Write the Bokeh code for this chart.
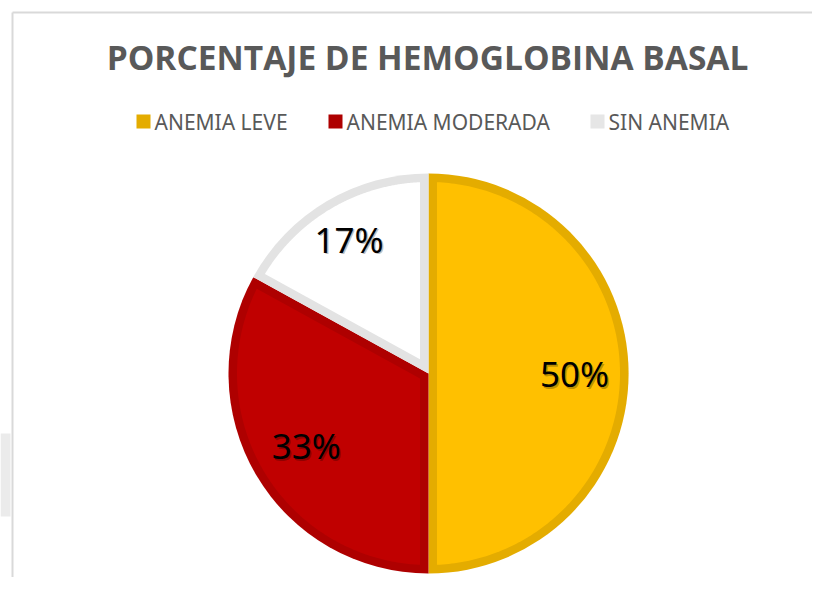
import numpy as np
from bokeh.plotting import figure
from bokeh.models import Range1d
from bokeh.core.properties import value
from bokeh.embed import file_html
from bokeh.resources import INLINE

# ---- data ----
title = "PORCENTAJE DE HEMOGLOBINA BASAL"
categories = ["ANEMIA LEVE", "ANEMIA MODERADA", "SIN ANEMIA"]
percentages = [50, 33, 17]
fill_colors = ["#FFC000", "#C00000", "#FFFFFF"]
edge_colors = ["#E4AC00", "#AE0000", "#E3E3E3"]
legend_colors = ["#E4AC00", "#AE0000", "#E6E6E6"]

W, H = 812, 577
p = figure(width=W, height=H, output_backend="svg", toolbar_location=None,
           x_range=Range1d(0, W), y_range=Range1d(0, H), min_border=0)
p.axis.visible = False
p.grid.visible = False
p.outline_line_color = None
p.background_fill_color = "white"
p.border_fill_color = "white"

# faint background watermark fragment at left edge
p.quad(left=[0], right=[10], top=[H - 433], bottom=[H - 516],
       fill_color="#EBEBEB", line_color=None)

# chart frame
p.segment(x0=[12, 12], y0=[H - 12, H - 12], x1=[W, 12], y1=[H - 12, 0],
          line_color="#D9D9D9", line_width=2)

# title
p.text(x=[427], y=[H - 56], text=[title], text_align="center", text_baseline="middle",
       text_font=value("Open Sans"), text_font_style="bold", text_font_size="33.5px",
       text_color="#595959")

# legend
leg_sq_x = [136, 328, 590]
leg_y = H - 121
p.rect(x=[x + 7 for x in leg_sq_x], y=[leg_y] * 3, width=14, height=14,
       fill_color=legend_colors, line_color=None)
p.text(x=[x + 18 for x in leg_sq_x], y=[leg_y] * 3, text=categories,
       text_align="left", text_baseline="middle", text_font=value("Noto Sans"),
       text_font_size="21px", text_color="#595959")

# pie
cx, cy, r, d = 428, H - 373, 200, 8.5
total = float(sum(percentages))
bounds = np.concatenate([[0], np.cumsum(percentages) / total * 2 * np.pi])

# outer (edge colour) wedges, clockwise from 12 o'clock
p.wedge(x=[cx] * 3, y=[cy] * 3, radius=r,
        start_angle=list(np.pi / 2 - bounds[:-1]), end_angle=list(np.pi / 2 - bounds[1:]),
        direction="clock", fill_color=edge_colors, line_color=None)

# inset fills
xs, ys = [], []
for i in range(len(percentages)):
    a0, a1 = bounds[i], bounds[i + 1]
    th = a1 - a0
    alpha = np.arcsin(d / (r - d))
    arc = np.linspace(a0 + alpha, a1 - alpha, 200)
    px = list(cx + (r - d) * np.sin(arc))
    py = list(cy + (r - d) * np.cos(arc))
    mid = (a0 + a1) / 2
    dist = d / np.sin(th / 2)
    px.append(cx + dist * np.sin(mid))
    py.append(cy + dist * np.cos(mid))
    xs.append(px)
    ys.append(py)
p.patches(xs=xs, ys=ys, fill_color=fill_colors, line_color=None)

# data labels
fracs = [0.73, 0.71, 0.78]
mids = (bounds[:-1] + bounds[1:]) / 2
lx = [cx + f * r * np.sin(m) for f, m in zip(fracs, mids)]
ly = [cy + f * r * np.cos(m) for f, m in zip(fracs, mids)]
labels = [f"{v}%" for v in percentages]
p.text(x=[v + 1.5 for v in lx], y=[v - 1.5 for v in ly], text=labels,
       text_align="center", text_baseline="middle", text_font=value("Noto Sans"),
       text_font_size="35px", text_color="black", text_alpha=0.25)
p.text(x=lx, y=ly, text=labels, text_align="center", text_baseline="middle",
       text_font=value("Noto Sans"), text_font_size="35px", text_color="black")

open("out.html", "w").write(file_html(p, INLINE))
